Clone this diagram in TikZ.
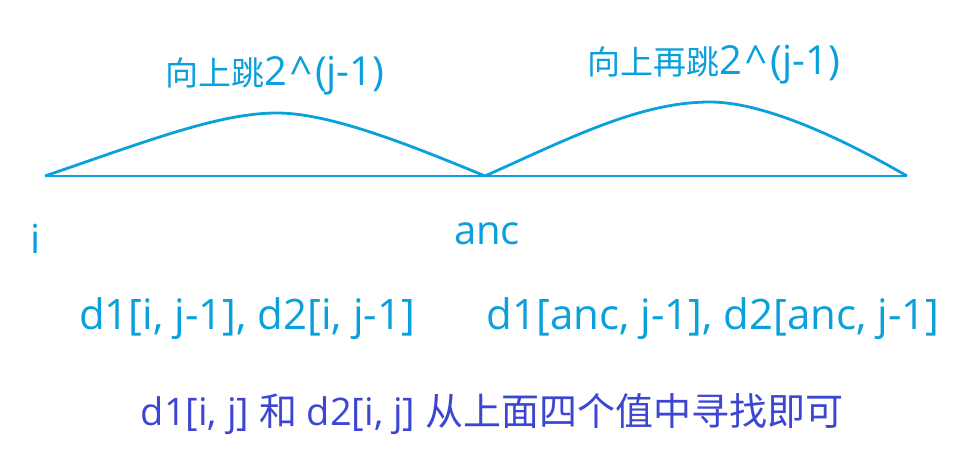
\documentclass[tikz,border=0pt]{standalone}
\usepackage{fontspec}
\setmainfont{Open Sans}
\newfontfamily\cjk{Noto Sans CJK SC}
\definecolor{jumpblue}{RGB}{10,160,220}
\definecolor{notepurple}{RGB}{60,70,210}
\newcommand{\jumpexp}{2\kern3pt\textasciicircum\kern3pt(j-1)}

\begin{document}
\begin{tikzpicture}[x=1pt,y=-1pt]
	\def \lineht{176}
	\def \nameht{245}
	\def \valueht{329}
	\def \noteht{425}
	\tikzstyle{jump-line}=[draw=jumpblue,line width=2.8pt,line join=round]
	\tikzstyle{jump-label}=[text=jumpblue,anchor=base,inner sep=0pt,font=\fontsize{40}{44}\selectfont]
	\tikzstyle{point-label}=[text=jumpblue,anchor=base,inner sep=0pt,font=\fontsize{40}{44}\selectfont]
	\tikzstyle{value-label}=[text=jumpblue,anchor=base,inner sep=0pt,font=\fontsize{42}{46}\selectfont]
	\tikzstyle{note}=[text=notepurple,anchor=base,inner sep=0pt,font=\fontsize{38}{42}\selectfont]
	\useasboundingbox (0,0) rectangle (966,462);

	% points on the line
	\coordinate (i)    at (45,\lineht);
	\coordinate (anc)  at (485,\lineht);
	\coordinate (last) at (907,\lineht);
	\coordinate (top1) at (277,113);
	\coordinate (top2) at (710,102);

	% line and jumps
	\draw[jump-line] (i) -- (last);
	\draw[jump-line] (i) .. controls (150,140) and (220,113) .. (top1)
		.. controls (330,113) and (410,145) .. (anc);
	\draw[jump-line] (anc) .. controls (570,138) and (640,102) .. (top2)
		.. controls (765,102) and (845,140) .. (last);

	% labels
	\node[jump-label] (jump1) at (275,86) {{\cjk\fontsize{33}{36}\selectfont 向上跳}\jumpexp};
	\node[jump-label] (jump2) at (714,75) {{\cjk\fontsize{33}{36}\selectfont 向上再跳}\jumpexp};
	\node[point-label] (i-label)   at (36,254)      {i};
	\node[point-label] (anc-label) at (487,\nameht) {anc};

	\node[value-label] (d-i)   at (247,\valueht) {d1[i, j-1], d2[i, j-1]};
	\node[value-label] (d-anc) at (713,\valueht) {d1[anc, j-1], d2[anc, j-1]};

	\node[note] (note) at (492,\noteht) {d1[i, j] {\cjk 和} d2[i, j] {\cjk 从上面四个值中寻找即可}};
\end{tikzpicture}
\end{document}
